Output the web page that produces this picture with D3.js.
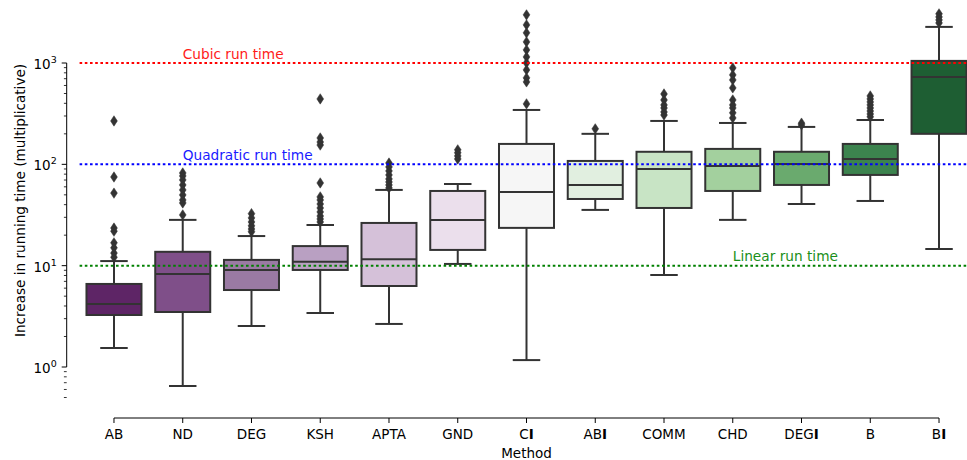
<!DOCTYPE html>
<html>
<head>
<meta charset="utf-8">
<script src="https://cdn.jsdelivr.net/npm/d3@7"></script>
<style>
  html, body { margin: 0; padding: 0; background: #fff; }
  svg { display: block; font-family: "DejaVu Sans", sans-serif; }
</style>
</head>
<body>
<svg id="chart" width="967" height="460"></svg>
<script>
// Methods, in plotting order; a trailing "I" is set in bold in the tick label.
const methods = ["AB", "ND", "DEG", "KSH", "APTA", "GND", "CI", "ABI", "COMM", "CHD", "DEGI", "B", "BI"];

// Box statistics (multiplicative increase in running time)
const q1      = [3.26, 3.49, 5.75, 9.07, 6.30, 14.3, 23.6, 45.5, 37.1, 54.6, 62.6, 78.6, 200];
const median  = [4.19, 8.28, 9.07, 10.9, 11.6, 28.3, 53.4, 62.6, 90.1, 96.4, 101, 113, 729];
const q3      = [6.6, 13.7, 11.4, 15.6, 26.4, 54.6, 159, 108, 133, 142, 133, 159, 1049];
const whiskLo = [1.54, 0.649, 2.54, 3.41, 2.66, 10.4, 1.17, 35.5, 8.09, 28.3, 40.6, 43.5, 14.6];
const whiskHi = [11.1, 28.3, 19.6, 25.2, 55.9, 64.0, 344, 200, 268, 256, 234, 274, 2271];

// Outlying runs per method
const outliers = [
  [268, 75, 52, 23.5, 21.9, 16.8, 15.0, 13.3, 12.1],
  [82.2, 76.8, 70.2, 62.6, 55.9, 49.9, 44.5, 41.6, 31.7],
  [32.6, 29.6, 27.0, 24.7, 23.0, 21.6],
  [442, 182, 166, 155, 65.5, 47.7, 44.5, 40.6, 37.1, 33.9, 30.9, 28.9, 27.0],
  [103, 94.3, 86.1, 78.6, 71.8, 67.0, 62.6, 58.5],
  [139, 130, 121, 113],
  [2985, 2378, 1983, 1616, 1347, 1148, 1002, 855, 713, 651, 395],
  [224],
  [495, 432, 386, 360, 329, 307],
  [895, 763, 681, 568, 432, 386, 360, 322, 287],
  [255, 245],
  [473, 442, 413, 386, 360, 336, 314, 294],
  [3054, 2851, 2663, 2487]
];

// Purple-to-green fill for each box
const fills = ["#5e2566", "#7f4f89", "#9a7aa3", "#b9a0c2", "#d5c1d9", "#ebdfec", "#f6f6f6",
               "#e1efe0", "#c8e4c5", "#a3d09e", "#6aaa6e", "#3c834e", "#1e5e33"];

// Reference growth rates
const refValues = [1000, 100, 10];
const refLabels = ["Cubic run time", "Quadratic run time", "Linear run time"];
const refLineColors = ["#ff0000", "#0000ff", "#008000"];
const refTextColors = ["#ff1a1a", "#1a1aff", "#1a8f1a"];
const refLabelAt = ["ND", "ND", "CHD"];

// Axis ticks
const majorTicks = [1, 10, 100, 1000];
const minorTicks = [0.5, 0.6, 0.7, 0.8, 0.9,
  2, 3, 4, 5, 6, 7, 8, 9, 20, 30, 40, 50, 60, 70, 80, 90, 200, 300, 400, 500, 600, 700, 800, 900];
const tickExponents = ["0", "1", "2", "3"];

const svg = d3.select("#chart");
const edge = "#333333";
const fontSize = 13.5;
const noteSize = 13.7;

const x = d3.scaleBand().domain(methods).range([79.6, 973.4]).paddingInner(0).paddingOuter(0);
const y = d3.scaleLog().domain([1, 1000]).range([367, 63]);
const cx = m => x(m) + x.bandwidth() / 2;
const boxW = x.bandwidth() * 0.8;
const capW = boxW * 0.5;

// ---- y axis (offset, trimmed spine) ----
const yAxisX = 66.7;
const gy = svg.append("g").attr("transform", `translate(${yAxisX},0)`);
gy.append("line").attr("x1", 0).attr("x2", 0)
  .attr("y1", y(1000)).attr("y2", y(1)).attr("stroke", "#000").attr("stroke-width", 1);
gy.selectAll("line.major").data(majorTicks).join("line").attr("class", "major")
  .attr("x1", -5).attr("x2", 0).attr("y1", d => y(d)).attr("y2", d => y(d))
  .attr("stroke", "#000").attr("stroke-width", 1);
gy.selectAll("line.minor").data(minorTicks).join("line").attr("class", "minor")
  .attr("x1", -2.8).attr("x2", 0).attr("y1", d => y(d)).attr("y2", d => y(d))
  .attr("stroke", "#000").attr("stroke-width", 0.8);
const yl = gy.selectAll("text.tl").data(majorTicks).join("text").attr("class", "tl")
  .attr("x", -10).attr("y", d => y(d) + 6)
  .attr("text-anchor", "end").attr("font-size", fontSize).attr("fill", "#000");
yl.append("tspan").text("10");
yl.append("tspan").attr("dy", -6).attr("font-size", 9.5).text((d, i) => tickExponents[i]);

svg.append("text")
  .attr("transform", `translate(25,${200.5}) rotate(-90)`)
  .attr("text-anchor", "middle").attr("font-size", 13.6).attr("fill", "#000")
  .text("Increase in running time (multiplicative)");

// ---- x axis (offset, trimmed spine) ----
const xAxisY = 418;
const gx = svg.append("g").attr("transform", `translate(0,${xAxisY})`);
gx.append("line").attr("x1", cx(methods[0])).attr("x2", cx(methods[methods.length - 1]))
  .attr("y1", 0).attr("y2", 0).attr("stroke", "#000").attr("stroke-width", 1);
gx.selectAll("line.tick").data(methods).join("line").attr("class", "tick")
  .attr("x1", d => cx(d)).attr("x2", d => cx(d)).attr("y1", 0).attr("y2", 5)
  .attr("stroke", "#000").attr("stroke-width", 1);
const xl = gx.selectAll("text.tl").data(methods).join("text").attr("class", "tl")
  .attr("x", d => cx(d)).attr("y", 21).attr("text-anchor", "middle")
  .attr("font-size", fontSize).attr("fill", "#000");
xl.each(function (d) {
  const t = d3.select(this);
  if (d.endsWith("I")) {
    t.append("tspan").text(d.slice(0, -1));
    t.append("tspan").attr("font-weight", "bold").text("I");
  } else {
    t.text(d);
  }
});
svg.append("text").attr("x", (cx(methods[0]) + cx(methods[methods.length - 1])) / 2)
  .attr("y", 457.5).attr("text-anchor", "middle").attr("font-size", fontSize).attr("fill", "#000")
  .text("Method");

// ---- boxes ----
const boxes = svg.append("g").selectAll("g").data(methods).join("g");
boxes.each(function (m, i) {
  const g = d3.select(this);
  const c = cx(m);
  // whiskers
  g.append("line").attr("x1", c).attr("x2", c).attr("y1", y(q3[i])).attr("y2", y(whiskHi[i]))
    .attr("stroke", edge).attr("stroke-width", 2);
  g.append("line").attr("x1", c).attr("x2", c).attr("y1", y(q1[i])).attr("y2", y(whiskLo[i]))
    .attr("stroke", edge).attr("stroke-width", 2);
  // caps
  [whiskHi[i], whiskLo[i]].forEach(v => {
    g.append("line").attr("x1", c - capW / 2).attr("x2", c + capW / 2)
      .attr("y1", y(v)).attr("y2", y(v)).attr("stroke", edge).attr("stroke-width", 2);
  });
  // box
  g.append("rect").attr("x", c - boxW / 2).attr("width", boxW)
    .attr("y", y(q3[i])).attr("height", y(q1[i]) - y(q3[i]))
    .attr("fill", fills[i]).attr("stroke", edge).attr("stroke-width", 2);
  // median
  g.append("line").attr("x1", c - boxW / 2).attr("x2", c + boxW / 2)
    .attr("y1", y(median[i])).attr("y2", y(median[i])).attr("stroke", edge).attr("stroke-width", 2);
  // outliers as thin diamonds
  g.selectAll("path.fl").data(outliers[i]).join("path").attr("class", "fl")
    .attr("d", v => {
      const py = y(v), hw = 3.4, hh = 5.2;
      return `M${c},${py - hh}L${c + hw},${py}L${c},${py + hh}L${c - hw},${py}Z`;
    })
    .attr("fill", edge).attr("stroke", edge).attr("stroke-width", 0.5);
});

// ---- reference lines with labels ----
const x0 = x.range()[0], x1 = x.range()[1];
const refs = svg.append("g");
refValues.forEach((v, i) => {
  refs.append("line").attr("x1", x0).attr("x2", x1).attr("y1", y(v)).attr("y2", y(v))
    .attr("stroke", refLineColors[i]).attr("stroke-width", 2).attr("stroke-dasharray", "2.6,2.6");
  refs.append("text").attr("x", cx(refLabelAt[i])).attr("y", y(v * 1.1))
    .attr("font-size", noteSize).attr("fill", refTextColors[i]).text(refLabels[i]);
});
</script>
</body>
</html>
